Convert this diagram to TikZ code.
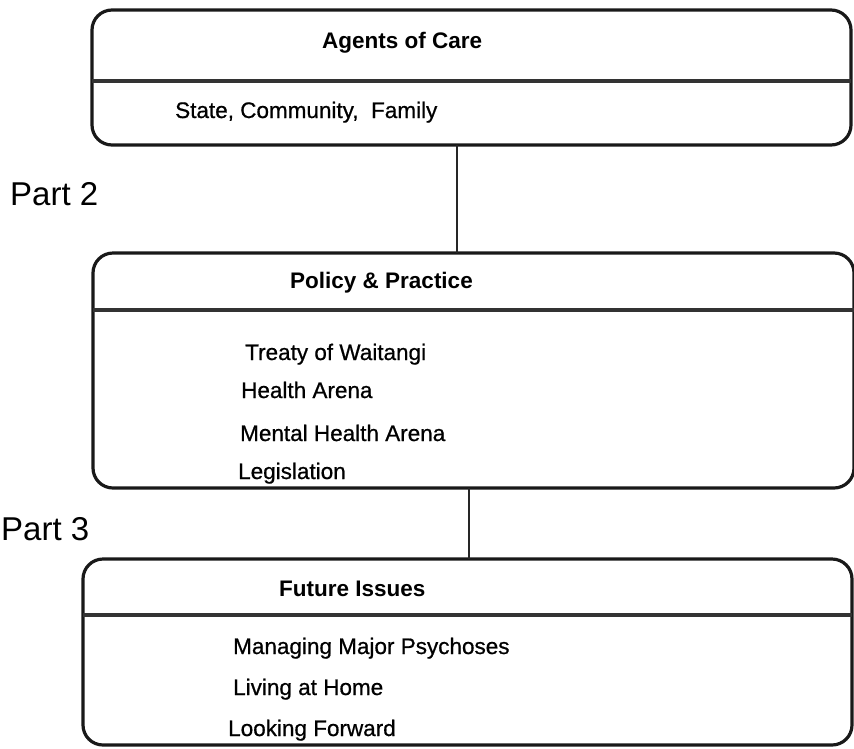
\documentclass[tikz,border=0pt]{standalone}
\usepackage{fontspec}
\setmainfont{Liberation Sans}
\newfontfamily\itemfont[FakeBold=0.7]{Liberation Sans}
\begin{document}
\begin{tikzpicture}[x=1pt,y=-1pt,
  panel/.style={draw=black!90, line width=3.2pt, rounded corners=20pt,
    inner sep=0pt, outer sep=0pt},
  divider/.style={draw=black!80, line width=3.4pt},
  link/.style={draw=black!85, line width=2.5pt},
  head/.style={anchor=base west, inner sep=0pt,
    font=\fontsize{22.5}{27}\selectfont\bfseries},
  item/.style={anchor=base west, inner sep=0pt,
    font=\fontsize{22.5}{27}\itemfont},
  part/.style={anchor=base west, inner sep=0pt,
    font=\fontsize{33}{40}\selectfont}]
\useasboundingbox (0,0) rectangle (854,748);

% three panels
\node[panel, minimum width=759pt, minimum height=135pt] (care) at (471.5,77.5) {};
\node[panel, minimum width=761pt, minimum height=235pt] (policy) at (473.5,370.5) {};
\node[panel, minimum width=769pt, minimum height=186pt] (future) at (467.5,652) {};

% heading rules
\coordinate (r1) at (0,81);
\coordinate (r2) at (0,310);
\coordinate (r3) at (0,615);
\draw[divider] (care.west |- r1) -- (care.east |- r1);
\draw[divider] (policy.west |- r2) -- (policy.east |- r2);
\draw[divider] (future.west |- r3) -- (future.east |- r3);

% links between panels
\coordinate (k1) at (457,0);
\coordinate (k2) at (469,0);
\draw[link] (care.south -| k1) -- (policy.north -| k1);
\draw[link] (policy.south -| k2) -- (future.north -| k2);

% panel texts
\node[head] (h1) at (322,48) {Agents of Care};
\node[item] (a1) at (175,118) {State, Community,\ \ Family};

\node[head] (h2) at (290,288) {Policy \& Practice};
\node[item] (b1) at (245,360) {Treaty of Waitangi};
\node[item] (b2) at (241,398) {Health Arena};
\node[item] (b3) at (240,441) {Mental Health Arena};
\node[item] (b4) at (238,479) {Legislation};

\node[head] (h3) at (279,596) {Future Issues};
\node[item] (c1) at (233,654) {Managing Major Psychoses};
\node[item] (c2) at (233,695) {Living at Home};
\node[item] (c3) at (228,736) {Looking Forward};

% part labels
\node[part] (p2) at (10,205) {Part 2};
\node[part] (p3) at (1,540) {Part 3};
\end{tikzpicture}
\end{document}
